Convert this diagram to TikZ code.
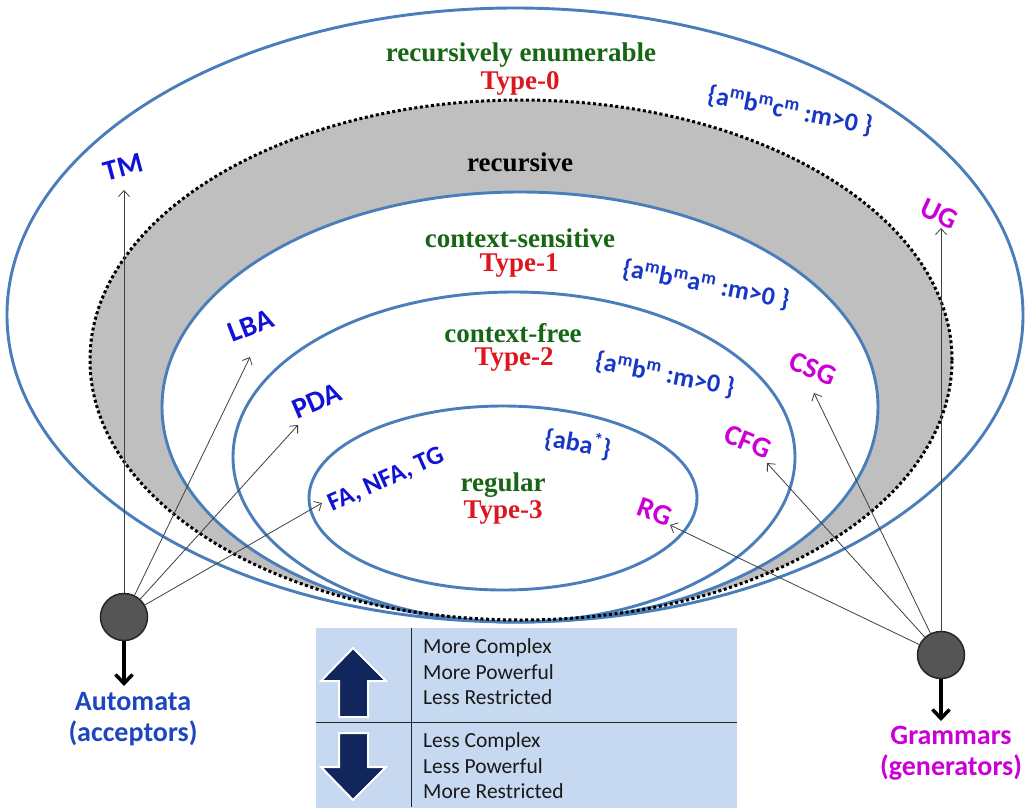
\documentclass[tikz,border=0pt]{standalone}
\usepackage{fontspec}
\setmainfont{Liberation Serif}
\newfontfamily\calfont{Carlito}
\usetikzlibrary{arrows.meta}
\definecolor{ellblue}{RGB}{74,126,187}
\definecolor{regray}{RGB}{191,191,191}
\definecolor{tgreen}{RGB}{22,102,22}
\definecolor{tred}{RGB}{222,22,30}
\definecolor{lblue}{RGB}{18,18,215}
\definecolor{sblue}{RGB}{22,55,200}
\definecolor{tmag}{RGB}{204,0,214}
\definecolor{abblue}{RGB}{30,70,190}
\definecolor{tabfill}{RGB}{198,217,240}
\definecolor{navy}{RGB}{16,38,92}
\definecolor{circfill}{RGB}{85,85,85}
\begin{document}
\begin{tikzpicture}[x=1pt,y=-1pt,
  ell/.style={draw=ellblue,line width=2.9pt},
  cls/.style={font=\bfseries\fontsize{27}{30}\selectfont,text=tgreen,inner sep=0pt},
  typ/.style={font=\bfseries\fontsize{27}{30}\selectfont,text=tred,inner sep=0pt},
  acc/.style={font=\calfont\bfseries\fontsize{29}{32}\selectfont,text=lblue,inner sep=0pt},
  gen/.style={font=\calfont\bfseries\fontsize{29}{32}\selectfont,text=tmag,inner sep=0pt},
  setl/.style={font=\calfont\bfseries\fontsize{26}{30}\selectfont,text=sblue,inner sep=0pt},
  thinarrow/.style={draw=black!75,line width=0.8pt,-{Straight Barb[length=6pt,width=11pt]}},
  hub/.style={circle,draw=black!85,line width=1.5pt,fill=circfill,minimum size=47pt,inner sep=0pt},
  bigarrow/.style={line width=3.5pt,-{Straight Barb[length=9pt,width=17pt,line width=3.5pt]}},
  tabtxt/.style={font=\calfont\fontsize{21.5}{25.5}\selectfont,anchor=west,inner sep=0pt,text=black!90,align=left},
  blockarrow/.style={fill=navy,draw=white,line width=2pt,line join=miter},
]
\useasboundingbox (0,0) rectangle (1028,807);

% nested language classes
\draw[ell,fill=white] (515,315) ellipse [x radius=508pt,y radius=307pt];
\fill[regray] (521,360) ellipse [x radius=431pt,y radius=260pt];
\draw[ell,fill=white] (520,407) ellipse [x radius=358pt,y radius=215pt];
\draw[ell] (514,457) ellipse [x radius=281pt,y radius=165pt];
\draw[ell] (503,498) ellipse [x radius=194pt,y radius=92pt];
\draw[black,line width=3pt,dash pattern=on 3pt off 2.6pt] (521,360) ellipse [x radius=431pt,y radius=260pt];

% class names
\node[cls] (re) at (521,55) {recursively enumerable};
\node[typ] (t0) at (520,83) {Type-0};
\node[font=\bfseries\fontsize{27}{30}\selectfont,inner sep=0pt] (rec) at (520,162) {recursive};
\node[cls] (cs) at (520,238) {context-sensitive};
\node[typ] (t1) at (519,265) {Type-1};
\node[cls] (cf) at (513,333) {context-free};
\node[typ] (t2) at (514,359) {Type-2};
\node[cls] (rg) at (503,485) {regular};
\node[typ] (t3) at (503,512) {Type-3};

% example languages
\node[setl,rotate=-11] (s0) at (790,111) {\{a\textsuperscript{m}b\textsuperscript{m}c\textsuperscript{m} :m>0 \}};
\node[setl,rotate=-11] (s1) at (706,285) {\{a\textsuperscript{m}b\textsuperscript{m}a\textsuperscript{m} :m>0 \}};
\node[setl,rotate=-11] (s2) at (665,375) {\{a\textsuperscript{m}b\textsuperscript{m} :m>0 \}};
\node[setl,rotate=-10] (s3) at (578,443) {\{aba\textsuperscript{*}\}};

% machines
\node[acc,rotate=15] (TM) at (123,167) {TM};
\node[acc,rotate=21] (LBA) at (251,326) {LBA};
\node[acc,rotate=23] (PDA) at (317,401) {PDA};
\node[acc,rotate=24,font=\calfont\bfseries\fontsize{26}{30}\selectfont] (FA) at (386,480) {FA, NFA, TG};
% grammars
\node[gen,rotate=-25] (UG) at (939,214) {UG};
\node[gen,rotate=-22] (CSG) at (813,369) {CSG};
\node[gen,rotate=-22] (CFG) at (748,442) {CFG};
\node[gen,rotate=-20] (RGl) at (655,512) {RG};

% hubs
\node[hub] (aut) at (124,617) {};
\node[hub] (gram) at (941,655) {};

\coordinate (tTM) at (124,190);
\coordinate (tLBA) at (250,357);
\coordinate (tPDA) at (298,425);
\coordinate (tFA) at (322,503);
\coordinate (tUG) at (941,228);
\coordinate (tCSG) at (814,393);
\coordinate (tCFG) at (767,463);
\coordinate (tRG) at (670,525);

\draw[thinarrow] (aut) -- (tTM);
\draw[thinarrow] (aut) -- (tLBA);
\draw[thinarrow] (aut) -- (tPDA);
\draw[thinarrow] (aut) -- (tFA);
\draw[thinarrow] (gram) -- (tUG);
\draw[thinarrow] (gram) -- (tCSG);
\draw[thinarrow] (gram) -- (tCFG);
\draw[thinarrow] (gram) -- (tRG);

\coordinate (autEnd) at (124,686);
\coordinate (gramEnd) at (941,721);
\draw[bigarrow] (aut) -- (autEnd);
\draw[bigarrow] (gram) -- (gramEnd);

\node[font=\calfont\bfseries\fontsize{28}{31}\selectfont,text=abblue,align=center,inner sep=0pt] (autl) at (133,719) {Automata\\(acceptors)};
\node[font=\calfont\bfseries\fontsize{28}{31}\selectfont,text=tmag,align=center,inner sep=0pt] (graml) at (951,753) {Grammars\\(generators)};

% legend table
\node[fill=tabfill,minimum width=421pt,minimum height=180pt,inner sep=0pt,anchor=north west] (tab) at (316,628) {};
\draw[black!85,line width=1pt] (316,722) -- (737,722);
\draw[black!85,line width=1pt] (411,628) -- (411,807);
\filldraw[blockarrow] (353,648) -- (386,681) -- (368,681) -- (368,717) -- (339,717) -- (339,681) -- (321,681) -- cycle;
\filldraw[blockarrow] (353,800) -- (386,767) -- (368,767) -- (368,733) -- (339,733) -- (339,767) -- (321,767) -- cycle;
\node[tabtxt] (up) at (423,672) {More Complex\\More Powerful\\Less Restricted};
\node[tabtxt] (down) at (423,766) {Less Complex\\Less Powerful\\More Restricted};
\end{tikzpicture}
\end{document}
